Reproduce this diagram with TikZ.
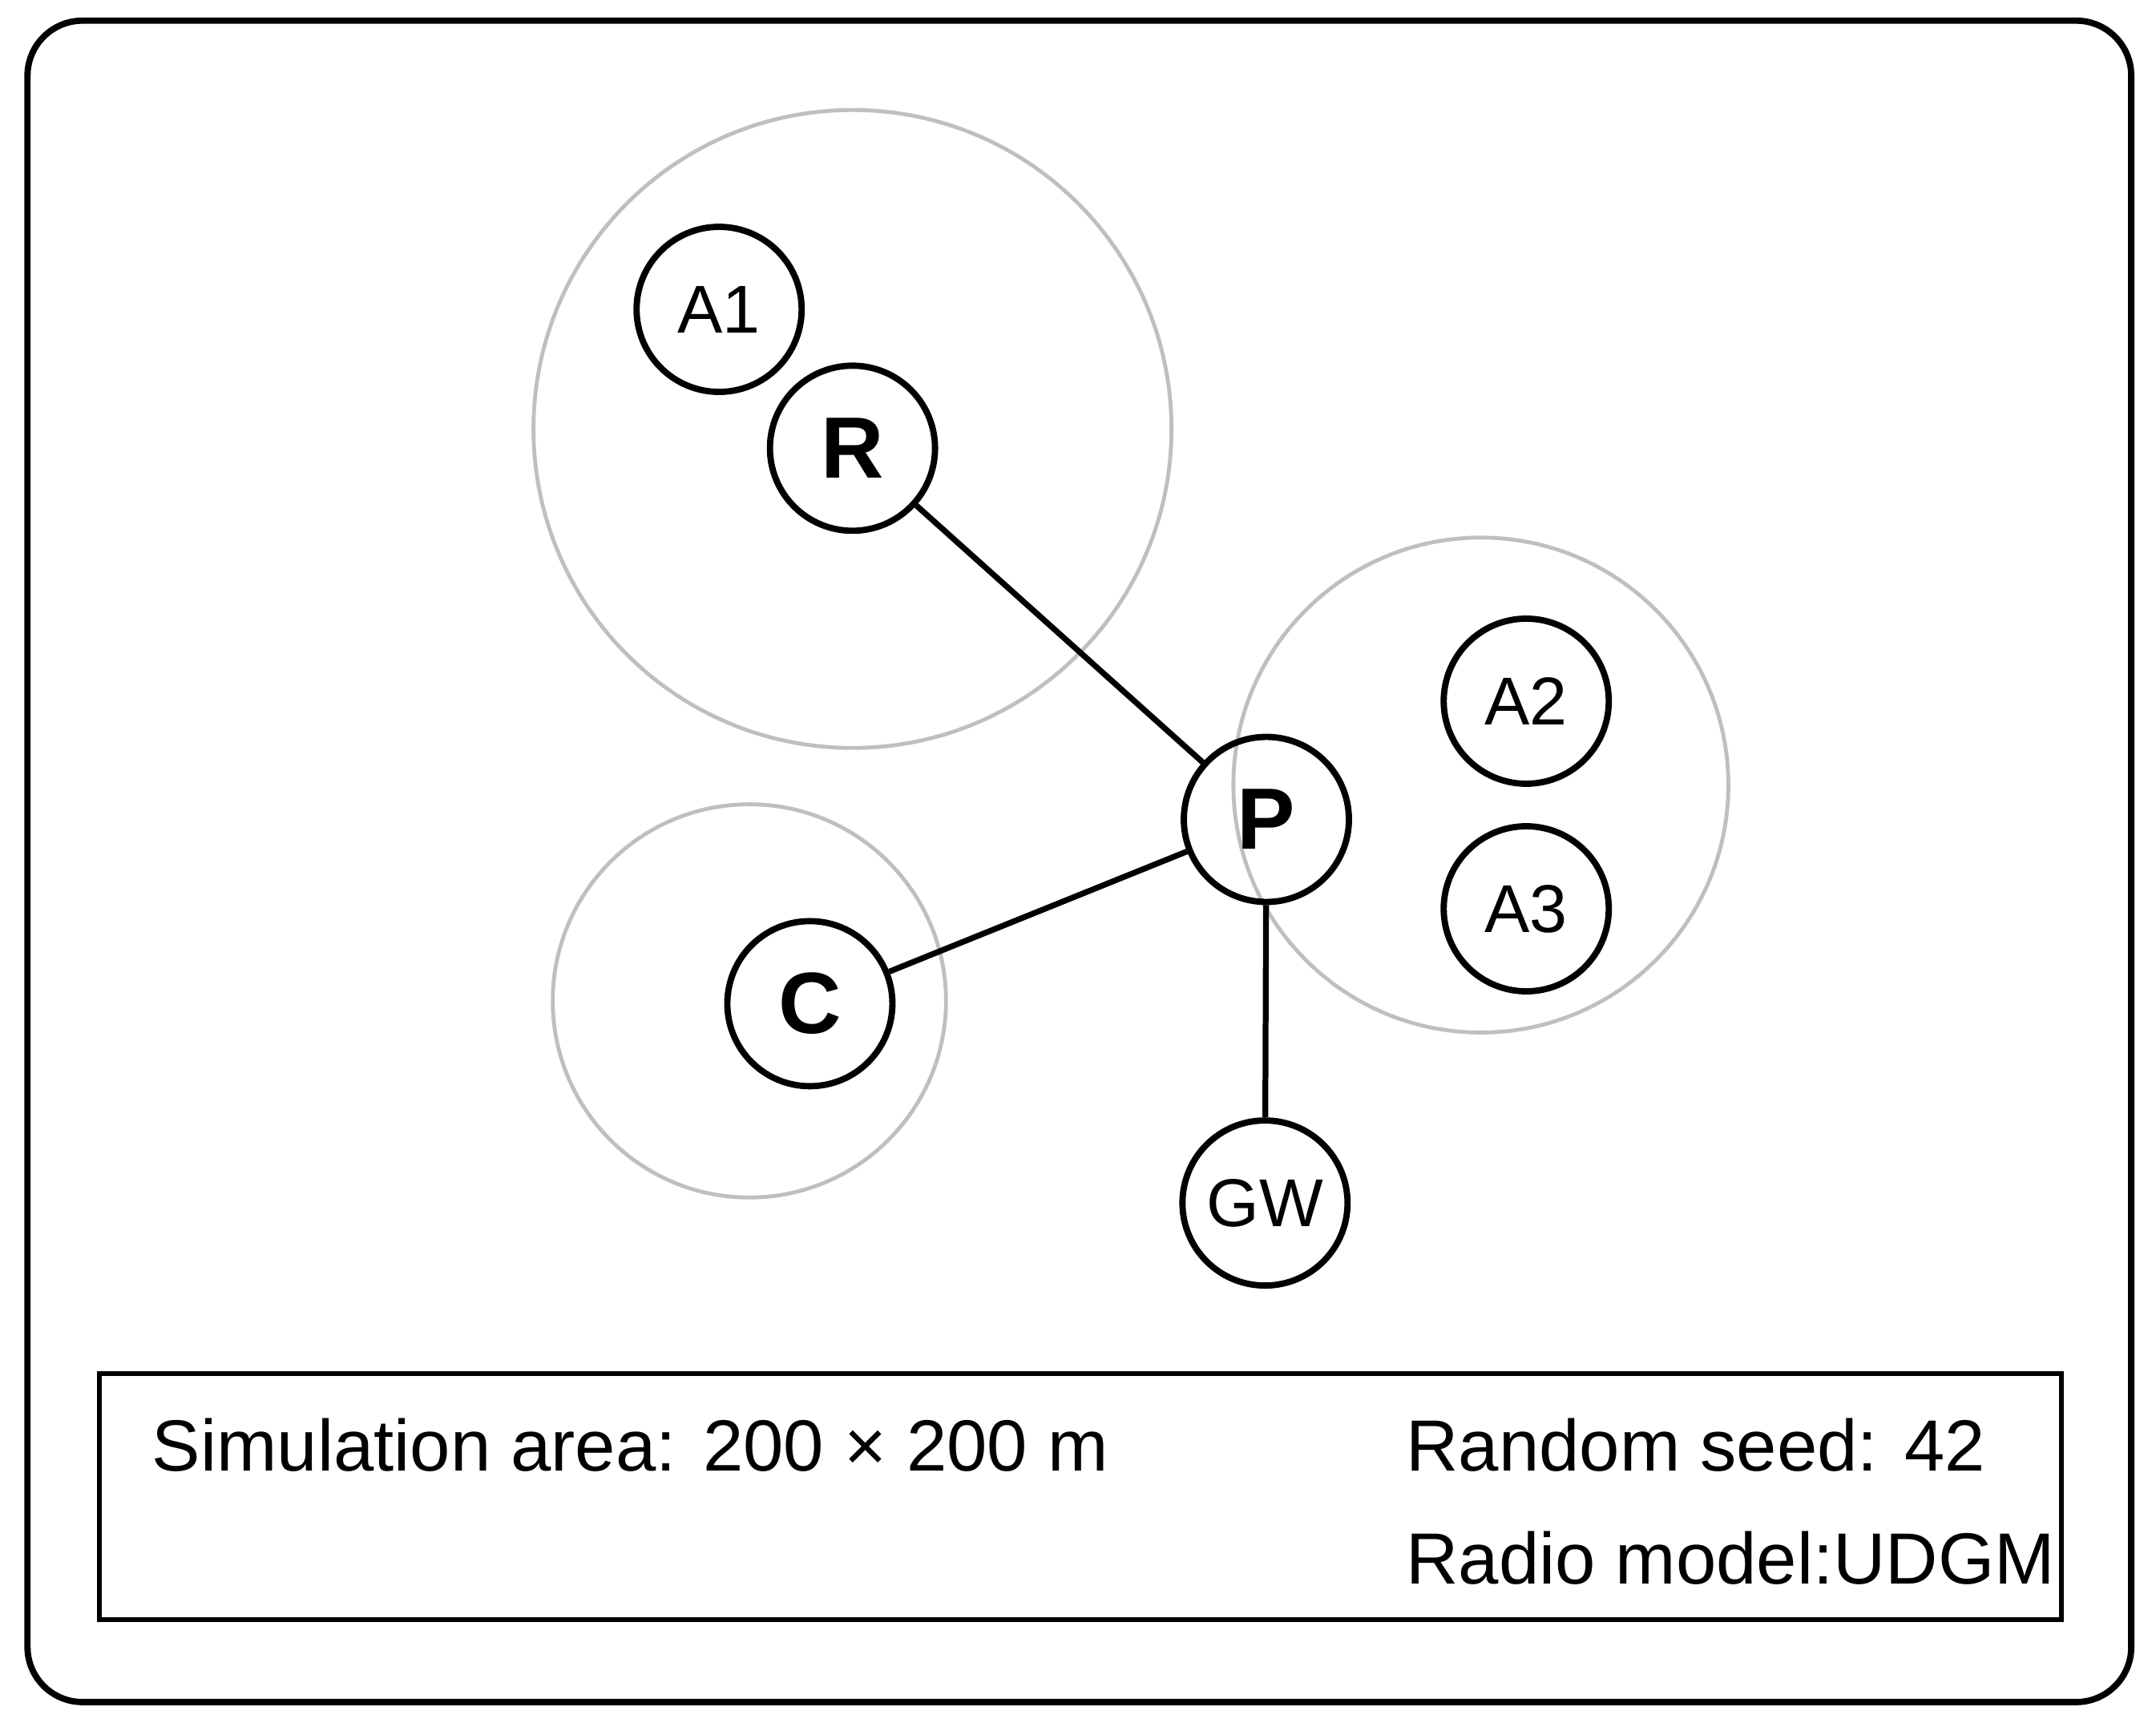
\documentclass[tikz,border=0pt]{standalone}
\usepackage{fontspec}
\setmainfont{Liberation Sans}
\begin{document}
\begin{tikzpicture}[x=0.01cm,y=-0.01cm,
  nd/.style={circle,draw=black,line width=1.3pt,minimum size=1.2cm,inner sep=0pt,font=\fontsize{14}{16}\selectfont},
  big/.style={nd,font=\fontsize{18}{20}\selectfont\bfseries},
  rangecirc/.style={draw=black!25,line width=0.8pt},
  link/.style={draw=black,line width=1.2pt},
  txt/.style={anchor=west,inner sep=0pt,font=\fontsize{15}{18}\selectfont}]
\useasboundingbox (0,0) rectangle (1568,1253);
\draw[line width=1.3pt,rounded corners=0.4cm] (20,15) rectangle (1550,1238);
\draw[rangecirc] (620,312) circle (232);
\draw[rangecirc] (1077,571) circle (180);
\draw[rangecirc] (545,728) circle (143);
\node[nd] (A1) at (523,225) {A1};
\node[big] (R) at (620,326) {R};
\node[big] (P) at (921,596) {P};
\node[nd] (A2) at (1110,510) {A2};
\node[nd] (A3) at (1110,661) {A3};
\node[big] (C) at (589,730) {C};
\node[nd] (GW) at (920,875) {GW};
\draw[link] (R) -- (P);
\draw[link] (C) -- (P);
\draw[link] (P) -- (GW);
\draw[line width=1pt] (72,999) rectangle (1499,1178);
\node[txt] (t1) at (110,1051) {Simulation area: 200 × 200 m};
\node[txt] (t2) at (1022,1051) {Random seed: 42};
\node[txt] (t3) at (1022,1133) {Radio model:UDGM};
\end{tikzpicture}
\end{document}
